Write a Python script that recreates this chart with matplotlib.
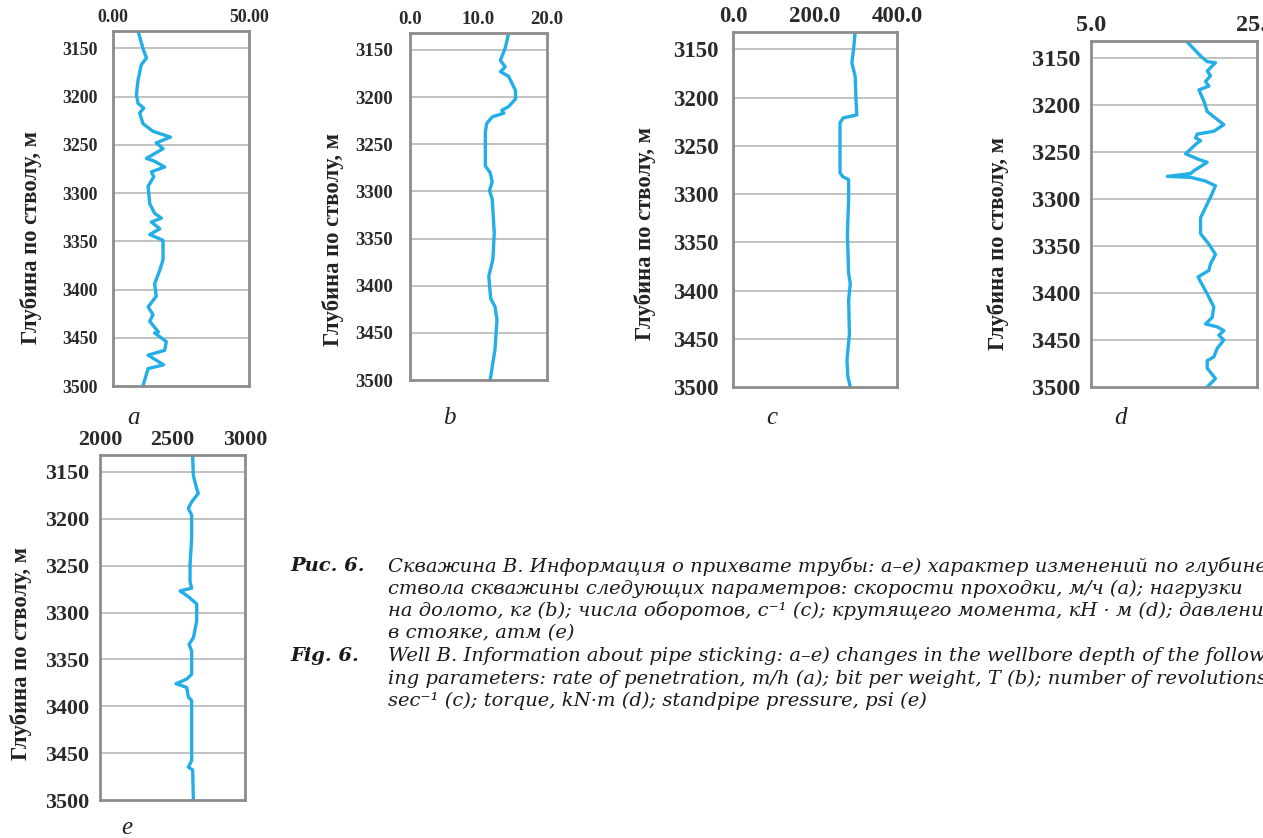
import matplotlib
matplotlib.use('Agg')
from matplotlib import pyplot as plt

W, H = 1263, 838
TOP = 3132
BOTTOM = 3500
depth_ticks = [3150, 3200, 3250, 3300, 3350, 3400, 3450, 3500]

# rate of penetration, m/h
rop_depth = [3132, 3150, 3160, 3167, 3183, 3198, 3207, 3212, 3217, 3228, 3236, 3242,
             3248, 3254, 3264, 3267, 3273, 3278, 3283, 3293, 3311, 3321, 3326, 3330,
             3337, 3343, 3349, 3369, 3380, 3394, 3407, 3418, 3426, 3433, 3444, 3445,
             3454, 3463, 3468, 3478, 3482, 3500]
rop = [9.2, 11.0, 12.3, 10.4, 9.2, 8.6, 9.2, 11.3, 9.8, 11.0, 14.7, 21.1,
       15.9, 18.4, 12.3, 15.3, 19.0, 14.1, 15.0, 12.9, 13.5, 15.3, 17.8, 14.1,
       17.2, 13.5, 18.4, 18.4, 17.2, 15.3, 15.9, 12.9, 14.7, 13.5, 16.7, 15.3,
       19.6, 19.0, 12.9, 18.6, 12.9, 11.0]

# weight on bit
wob_depth = [3132, 3148, 3161, 3168, 3173, 3178, 3193, 3202, 3210, 3214, 3217, 3221,
             3228, 3237, 3273, 3280, 3290, 3299, 3308, 3344, 3372, 3390, 3407, 3414,
             3422, 3436, 3468, 3500]
wob = [14.4, 13.9, 13.2, 13.9, 13.2, 14.4, 15.4, 15.4, 14.4, 13.4, 13.7, 12.0,
       11.2, 11.0, 11.0, 11.7, 12.0, 11.6, 12.0, 12.3, 12.1, 11.5, 11.7, 11.8,
       12.4, 12.7, 12.4, 11.7]

# rotary speed
rpm_depth = [3132, 3150, 3164, 3178, 3202, 3218, 3221, 3226, 3271, 3278, 3282, 3285,
             3306, 3341, 3382, 3393, 3410, 3445, 3472, 3489, 3500]
rpm = [298, 294, 290, 298, 300, 302, 269, 261, 261, 261, 268, 282,
       282, 279, 282, 286, 282, 284, 278, 280, 286]

# torque
torque_depth = [3133, 3148, 3154, 3155, 3164, 3169, 3175, 3180, 3184, 3196, 3207, 3214,
                3221, 3228, 3231, 3235, 3238, 3242, 3252, 3258, 3261, 3270, 3273, 3276,
                3277, 3281, 3286, 3298, 3320, 3337, 3348, 3359, 3369, 3376, 3383, 3401,
                3415, 3426, 3433, 3436, 3440, 3445, 3450, 3459, 3468, 3472, 3480, 3491,
                3500]
torque = [16.6, 18.2, 19.0, 20.0, 19.0, 19.4, 18.8, 19.2, 18.0, 18.6, 19.0, 20.0,
          21.0, 19.8, 17.8, 17.6, 18.2, 17.6, 16.4, 18.0, 19.0, 17.4, 17.0, 14.2,
          17.0, 18.8, 20.0, 19.4, 18.2, 18.2, 19.2, 20.0, 19.4, 19.2, 17.9, 19.0,
          19.8, 19.6, 18.8, 20.2, 21.0, 20.4, 21.0, 20.2, 19.8, 19.0, 19.0, 20.0,
          19.0]

# standpipe pressure
spp_depth = [3134, 3154, 3168, 3173, 3182, 3189, 3196, 3221, 3249, 3267, 3274, 3277,
             3283, 3291, 3309, 3327, 3334, 3341, 3366, 3371, 3376, 3378, 3380, 3390,
             3394, 3458, 3465, 3468, 3500]
spp = [2639, 2644, 2667, 2678, 2632, 2609, 2632, 2632, 2621, 2621, 2632, 2552,
       2609, 2667, 2667, 2644, 2614, 2632, 2632, 2598, 2524, 2563, 2598, 2609,
       2632, 2632, 2609, 2639, 2644]

panels = [
    (rop_depth, rop, (0, 50), [0, 50], '{:.2f}', 'a'),
    (wob_depth, wob, (0, 20), [0, 10, 20], '{:.1f}', 'b'),
    (rpm_depth, rpm, (0, 400), [0, 200, 400], '{:.1f}', 'c'),
    (torque_depth, torque, (5, 25), [5, 25], '{:.1f}', 'd'),
    (spp_depth, spp, (2000, 3000), [2000, 2500, 3000], '{:.0f}', 'e'),
]

# axes boxes in pixels: left, top, right, bottom
boxes = [(113, 31, 249, 386), (410, 33, 547, 380), (733, 32, 897, 387),
         (1091, 41, 1257, 387), (100, 455, 245, 800)]
ylabel_pos = [(31, 237), (333, 239), (645, 234), (998, 243), (21, 653)]
letter_pos = [(133, 418), (449, 418), (772, 418), (1120, 418), (127, 828)]
# each panel was scaled a little differently, so its tick text too
tick_sizes = [12.8, 13.6, 16.5, 17.5, 15.8]
tick_pads = [11, 12, 10, 7.5, 8]

line_color = '#22aee6'
frame_color = '#8c8c8c'
grid_color = '#bdbdbd'

fig = plt.figure(figsize=(W / 100, H / 100), dpi=100)

for (depth, vals, xlim, xticks, fmt, letter), box, yl, lp, ts, tp in zip(
        panels, boxes, ylabel_pos, letter_pos, tick_sizes, tick_pads):
    l, t, r, b = box
    tick_font = dict(family='Liberation Serif', weight='bold', size=ts)
    ax = fig.add_axes([l / W, 1 - b / H, (r - l) / W, (b - t) / H])
    ax.plot(vals, depth, color=line_color, lw=2.4, solid_joinstyle='round')
    ax.set_xlim(*xlim)
    ax.set_ylim(BOTTOM, TOP)
    ax.set_yticks(depth_ticks)
    ax.set_xticks(xticks)
    ax.set_xticklabels([fmt.format(v) for v in xticks], **tick_font)
    ax.set_yticklabels([str(d) for d in depth_ticks], **tick_font)
    ax.xaxis.tick_top()
    ax.tick_params(length=0, colors='#2a2a2a')
    ax.tick_params(axis='y', pad=tp)
    ax.tick_params(axis='x', pad=3.5)
    for d in depth_ticks[:-1]:
        ax.axhline(d, color=grid_color, lw=1.3, zorder=0)
    for s in ax.spines.values():
        s.set_color(frame_color)
        s.set_linewidth(2)
    fig.text(yl[0] / W, 1 - yl[1] / H, 'Глубина по стволу, м', rotation=90,
             ha='center', va='center', family='Liberation Serif', weight='bold',
             size=16.3, color='#222222')
    fig.text(lp[0] / W, 1 - lp[1] / H, letter, ha='center', va='center',
             family='Liberation Serif', style='italic', size=18, color='#222222')

caption_ru = [
    'Скважина B. Информация о прихвате трубы: a–e) характер изменений по глубине',
    'ствола скважины следующих параметров: скорости проходки, м/ч (a); нагрузки',
    'на долото, кг (b); числа оборотов, с⁻¹ (c); крутящего момента, кН · м (d); давления',
    'в стояке, атм (e)',
]
caption_en = [
    'Well B. Information about pipe sticking: a–e) changes in the wellbore depth of the follow-',
    'ing parameters: rate of penetration, m/h (a); bit per weight, T (b); number of revolutions,',
    'sec⁻¹ (c); torque, kN·m (d); standpipe pressure, psi (e)',
]
cap_font = dict(family=['DejaVu Serif'], style='italic', size=14, color='#1a1a1a')
ys = [566, 589, 611, 633, 656, 679, 701]
fig.text(290 / W, 1 - ys[0] / H, 'Рис. 6.', va='center', weight='bold', **cap_font)
fig.text(290 / W, 1 - ys[4] / H, 'Fig. 6.', va='center', weight='bold', **cap_font)
for line, y in zip(caption_ru + caption_en, ys):
    fig.text(388 / W, 1 - y / H, line, va='center', **cap_font)

fig.savefig('out.png', dpi=100)
